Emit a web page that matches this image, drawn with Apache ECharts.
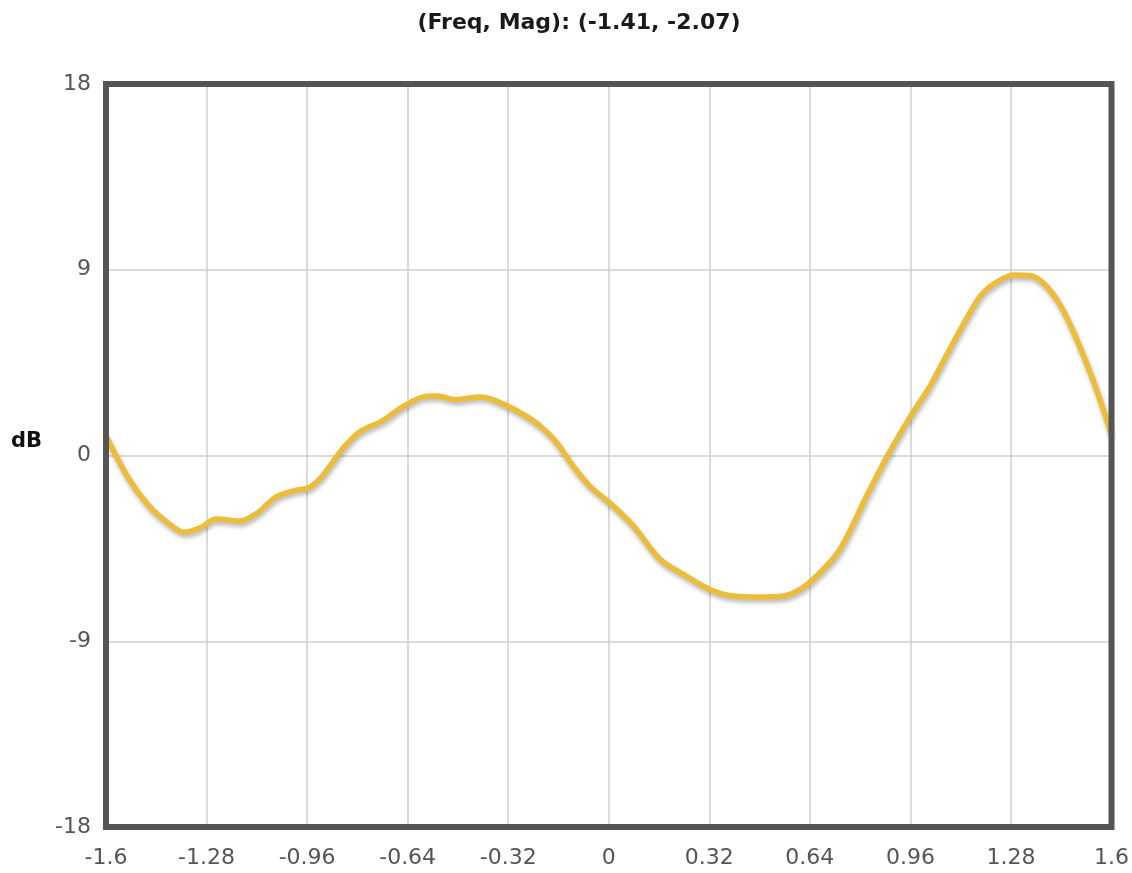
<!DOCTYPE html>
<html>
<head>
<meta charset="utf-8">
<script src="https://cdn.jsdelivr.net/npm/echarts@6/dist/echarts.min.js"></script>
<style>html,body{margin:0;padding:0;background:#fff;}#c{width:1132px;height:873px;}</style>
</head>
<body>
<div id="c"></div>
<script>
var titleText = '(Freq, Mag): (-1.41, -2.07)';
var yName = 'dB';
var freq = [-1.6, -1.527, -1.463, -1.40, -1.351, -1.30, -1.249, -1.176, -1.12, -1.058, -0.994, -0.953, -0.911, -0.847, -0.794, -0.719, -0.666, -0.592, -0.549, -0.485, -0.411, -0.369, -0.294, -0.220, -0.167, -0.114, -0.061, 0.014, 0.078, 0.163, 0.237, 0.322, 0.396, 0.481, 0.556, 0.609, 0.662, 0.736, 0.821, 0.890, 0.959, 1.023, 1.087, 1.148, 1.19, 1.24, 1.29, 1.34, 1.39, 1.44, 1.49, 1.545, 1.6];
var mag = [0.95, -1.14, -2.45, -3.3, -3.72, -3.5, -3.08, -3.18, -2.8, -2.0, -1.68, -1.55, -0.98, 0.32, 1.13, 1.69, 2.26, 2.83, 2.88, 2.71, 2.83, 2.71, 2.18, 1.45, 0.64, -0.50, -1.47, -2.44, -3.41, -5.03, -5.76, -6.49, -6.81, -6.86, -6.81, -6.49, -5.84, -4.54, -1.95, 0.07, 1.86, 3.39, 5.2, 6.89, 7.86, 8.45, 8.75, 8.72, 8.25, 7.2, 5.6, 3.5, 1.0];
var xMin = -1.6, xMax = 1.6, xStep = 0.32;
var yMin = -18, yMax = 18, yStep = 9;

var pts = freq.map(function (f, i) { return [f, mag[i]]; });
var chart = echarts.init(document.getElementById('c'));
var font = 'DejaVu Sans';
chart.setOption({
  animation: false,
  graphic: [{
    type: 'text', x: 579, y: 23,
    style: { text: titleText, font: 'bold 22px "DejaVu Sans"', fill: '#1a1a1a', align: 'center', verticalAlign: 'middle' }
  }, {
    type: 'text', x: 11, y: 442,
    style: { text: yName, font: 'bold 21px "DejaVu Sans"', fill: '#111', align: 'left', verticalAlign: 'middle' }
  }],
  grid: { left: 106, right: 20, top: 84, bottom: 46, show: true, borderColor: '#555', borderWidth: 6, backgroundColor: 'transparent', z: 5 },
  xAxis: {
    type: 'value', min: xMin, max: xMax, interval: xStep,
    axisLine: { show: false }, axisTick: { show: false },
    splitLine: { show: true, showMinLine: false, showMaxLine: false, lineStyle: { color: '#cfcfcf', width: 1.5 } },
    axisLabel: { color: '#555', fontFamily: font, fontSize: 22, margin: 20,
      formatter: function (v) { return String(Math.round(v * 100) / 100); } }
  },
  yAxis: {
    type: 'value', min: yMin, max: yMax, interval: yStep,
    axisLine: { show: false }, axisTick: { show: false },
    splitLine: { show: true, showMinLine: false, showMaxLine: false, lineStyle: { color: '#cfcfcf', width: 1.5 } },
    axisLabel: { color: '#555', fontFamily: font, fontSize: 22, margin: 15 }
  },
  series: [{
    type: 'line', data: pts, smooth: 0.35, symbol: 'none', clip: false,
    lineStyle: { color: '#ecbd3b', width: 5.5, shadowColor: 'rgba(0,0,0,0.28)', shadowBlur: 4, shadowOffsetY: 3, shadowOffsetX: 1 }
  }]
});
</script>
</body>
</html>
